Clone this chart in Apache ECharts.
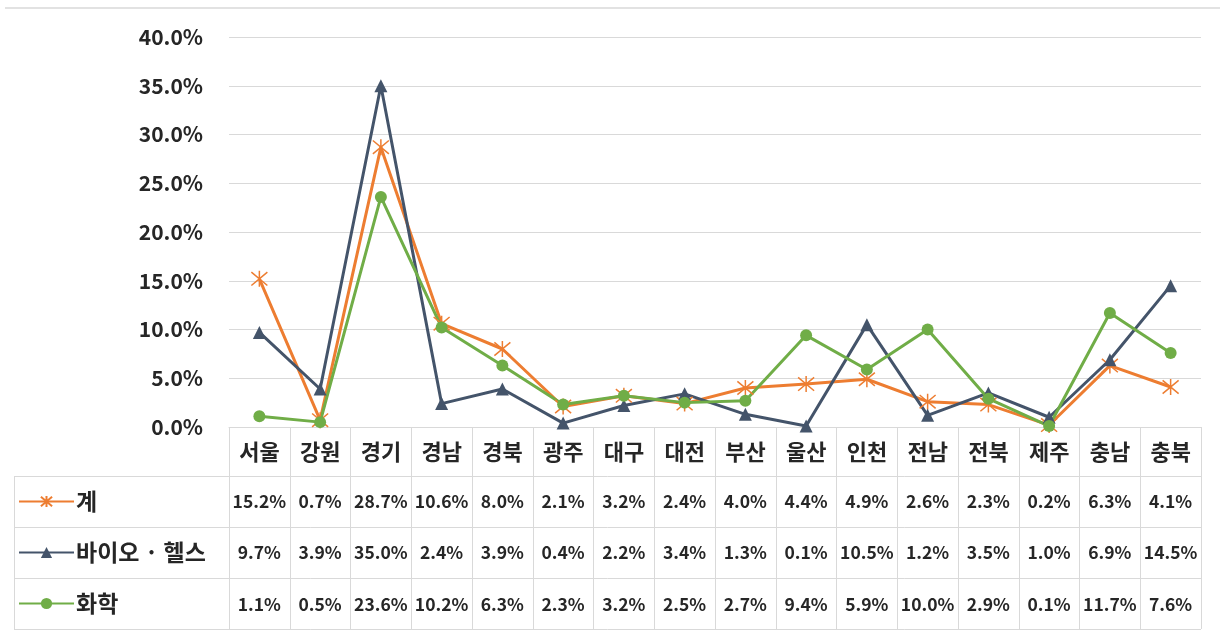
<!DOCTYPE html>
<html>
<head>
<meta charset="utf-8">
<script src="https://cdn.jsdelivr.net/npm/echarts@6/dist/echarts.min.js"></script>
<style>
  html, body { margin: 0; padding: 0; background: #fff; }
  #chart { width: 1228px; height: 634px; }
</style>
</head>
<body>
<div id="chart"></div>
<script>
// 지역
const regions = ['서울', '강원', '경기', '경남', '경북', '광주', '대구', '대전', '부산', '울산', '인천', '전남', '전북', '제주', '충남', '충북']
// 비중(%)
const total = [15.2, 0.7, 28.7, 10.6, 8.0, 2.1, 3.2, 2.4, 4.0, 4.4, 4.9, 2.6, 2.3, 0.2, 6.3, 4.1]
const bioHealth = [9.7, 3.9, 35.0, 2.4, 3.9, 0.4, 2.2, 3.4, 1.3, 0.1, 10.5, 1.2, 3.5, 1.0, 6.9, 14.5]
const chemical = [1.1, 0.5, 23.6, 10.2, 6.3, 2.3, 3.2, 2.5, 2.7, 9.4, 5.9, 10.0, 2.9, 0.1, 11.7, 7.6]
const seriesNames = ['계', '바이오 · 헬스', '화학']

const FONT = '"Noto Sans CJK KR", "Noto Sans", sans-serif'
const TEXT = '#262626'
const LINE = '#d9d9d9'

// 엑셀 별표 마커 (*)
const starPath = 'path://M0 0 L10 10 M10 0 L0 10 M5 -1 L5 11'

const chart = echarts.init(document.getElementById('chart'))

const rows = [total, bioHealth, chemical]
const rowOffsets = [74, 125, 177]

const xAxes = [{
  type: 'category',
  data: regions,
  boundaryGap: true,
  axisLine: { lineStyle: { color: LINE, width: 1 } },
  axisTick: { show: true, length: 202, lineStyle: { color: LINE } },
  axisLabel: { color: TEXT, fontFamily: FONT, fontSize: 22, fontWeight: 'bold', margin: 25, verticalAlign: 'middle', interval: 0 }
}]
rows.forEach((r, i) => {
  xAxes.push({
    type: 'category',
    data: r.map(v => v.toFixed(1) + '%'),
    position: 'bottom',
    offset: rowOffsets[i],
    boundaryGap: true,
    axisLine: { show: false },
    axisTick: { show: false },
    axisLabel: { color: TEXT, fontFamily: FONT, fontSize: 17.5, fontWeight: 'bold', margin: 0, verticalAlign: 'middle', interval: 0 }
  })
})

const option = {
  backgroundColor: '#fff',
  animation: false,
  grid: { left: 229, right: 27, top: 37, bottom: 207, containLabel: false },
  legend: {
    data: seriesNames,
    orient: 'vertical',
    left: 18,
    top: 490,
    padding: 0,
    itemWidth: 55,
    itemHeight: 14,
    itemGap: 28,
    textStyle: { color: TEXT, fontFamily: FONT, fontSize: 23, fontWeight: 'bold', padding: [0, 0, 0, -3] }
  },
  xAxis: xAxes,
  yAxis: {
    type: 'value',
    min: 0,
    max: 40,
    interval: 5,
    axisLine: { show: false },
    axisTick: { show: false },
    splitLine: { lineStyle: { color: LINE, width: 1 } },
    axisLabel: {
      color: TEXT, fontFamily: FONT, fontSize: 21, fontWeight: 'bold', margin: 26,
      formatter: v => v.toFixed(1) + '%'
    }
  },
  series: [
    {
      name: seriesNames[0], type: 'line', data: total,
      symbol: starPath, symbolSize: 16,
      lineStyle: { color: '#ED7D31', width: 3 },
      itemStyle: { color: '#ED7D31', borderColor: '#ED7D31', borderWidth: 1.5 }
    },
    {
      name: seriesNames[1], type: 'line', data: bioHealth,
      symbol: 'triangle', symbolSize: 13,
      lineStyle: { color: '#44546A', width: 3 },
      itemStyle: { color: '#44546A' }
    },
    {
      name: seriesNames[2], type: 'line', data: chemical,
      symbol: 'circle', symbolSize: 12,
      lineStyle: { color: '#70AD47', width: 3 },
      itemStyle: { color: '#70AD47' }
    }
  ],
  graphic: [
    { type: 'line', shape: { x1: 5, y1: 8, x2: 1220, y2: 8 }, style: { stroke: LINE, lineWidth: 1.5 } },
    { type: 'line', shape: { x1: 14, y1: 476.5, x2: 1201, y2: 476.5 }, style: { stroke: LINE, lineWidth: 1 } },
    { type: 'line', shape: { x1: 14, y1: 527.5, x2: 1201, y2: 527.5 }, style: { stroke: LINE, lineWidth: 1 } },
    { type: 'line', shape: { x1: 14, y1: 578.5, x2: 1201, y2: 578.5 }, style: { stroke: LINE, lineWidth: 1 } },
    { type: 'line', shape: { x1: 14, y1: 629.5, x2: 1201, y2: 629.5 }, style: { stroke: LINE, lineWidth: 1 } },
    { type: 'line', shape: { x1: 14.5, y1: 476, x2: 14.5, y2: 630 }, style: { stroke: LINE, lineWidth: 1 } }
  ]
}

chart.setOption(option)
</script>
</body>
</html>
